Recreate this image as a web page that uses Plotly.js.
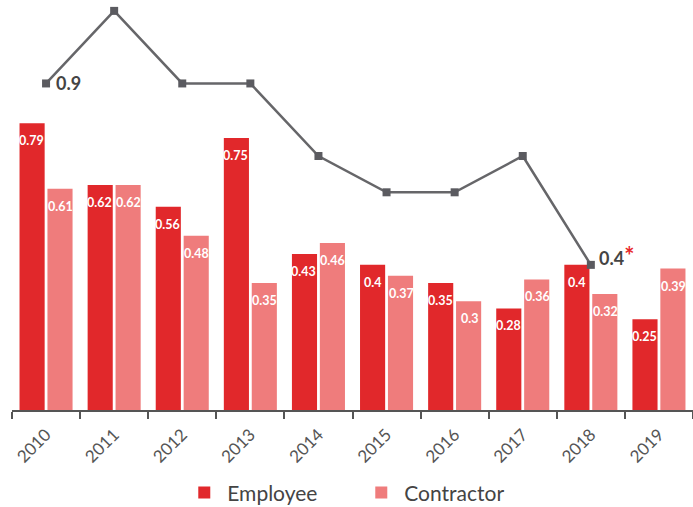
<!DOCTYPE html>
<html><head><meta charset="utf-8">
<script src="https://cdn.plot.ly/plotly-3.0.1.min.js"></script>
<style>html,body{margin:0;padding:0;background:#fff}#chart{width:693px;height:507px}</style>
</head><body><div id="chart"></div>
<script>
const years = ['2010','2011','2012','2013','2014','2015','2016','2017','2018','2019'];
const employee = [0.79,0.62,0.56,0.75,0.43,0.40,0.35,0.28,0.40,0.25];
const contractor = [0.61,0.62,0.48,0.35,0.46,0.37,0.30,0.36,0.32,0.39];
const lineVals = [0.9,1.1,0.9,0.9,0.7,0.6,0.6,0.7,0.4,null];

const traces = [
  {type:'bar', name:'Employee', x:years, y:employee,
   marker:{color:'#e1282b'}, hoverinfo:'skip'},
  {type:'bar', name:'Contractor', x:years, y:contractor,
   marker:{color:'#ef7c7c'}, hoverinfo:'skip'},
  {type:'scatter', mode:'lines+markers', x:years, y:lineVals, showlegend:false,
   line:{color:'#666669', width:2.5}, marker:{symbol:'square', size:8, color:'#5b5b60'},
   cliponaxis:false, connectgaps:false, hoverinfo:'skip'}
];

const labelFont = {family:'Lato', size:12.5, color:'#fff', weight:'bold'};
const barLabels = [];
employee.forEach((v, i) => barLabels.push({x:i, y:v, text:String(v), showarrow:false,
  xshift:-14.5, yshift:-8, yanchor:'top', xanchor:'center', font:labelFont}));
contractor.forEach((v, i) => barLabels.push({x:i, y:v, text:String(v), showarrow:false,
  xshift:14.5, yshift:-8, yanchor:'top', xanchor:'center', font:labelFont}));

const layout = {
  width:693, height:507,
  margin:{l:12, r:0, t:0, b:97},
  paper_bgcolor:'#fff', plot_bgcolor:'#fff',
  barmode:'group', bargap:0.18, bargroupgap:0.1,
  font:{family:'Lato', color:'#555'},
  xaxis:{type:'category', range:[-0.5, years.length-0.5], autorange:false, automargin:false,
    showline:true, linecolor:'#555', linewidth:2,
    ticks:'outside', tickson:'boundaries', ticklen:7, tickwidth:2, tickcolor:'#555',
    ticklabelstandoff:6,
    tickangle:-45, tickfont:{size:17, color:'#555'}, showgrid:false, fixedrange:true},
  yaxis:{range:[0,1.13], autorange:false, visible:false, showgrid:false, zeroline:false, fixedrange:true},
  legend:{orientation:'h', xref:'container', yref:'container', x:0.517, xanchor:'center', y:0.028, yanchor:'middle',
    font:{size:21, color:'#444'}, itemwidth:36, entrywidth:126},
  annotations:barLabels.concat([
    {x:0, y:lineVals[0], text:String(lineVals[0]), showarrow:false,
     xanchor:'left', yanchor:'middle', xshift:8, yshift:0,
     font:{size:18, color:'#444', weight:'bold'}},
    {x:8, y:lineVals[8], text:String(lineVals[8]) + "<span style='color:#e8282b;font-size:24px'>*</span>", showarrow:false,
     xanchor:'left', yanchor:'middle', xshift:6, yshift:9,
     font:{size:18, color:'#444', weight:'bold'}}
  ]),
  showlegend:true
};
Plotly.newPlot('chart', traces, layout, {displayModeBar:false, staticPlot:true});
</script></body></html>
